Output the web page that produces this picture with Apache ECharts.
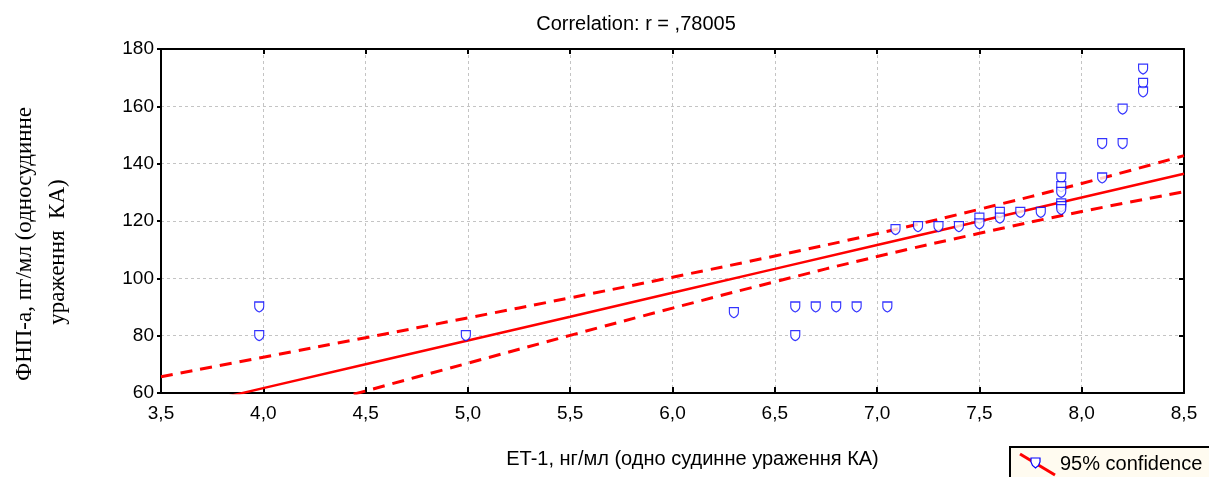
<!DOCTYPE html>
<html lang="uk">
<head>
  <meta charset="UTF-8">
  <script src="https://cdn.jsdelivr.net/npm/echarts@6/dist/echarts.min.js"></script>
  <title>Correlation</title>
  <style>
    html, body { margin: 0; height: 100%; background: #fff; }
    #chart { width: 1209px; height: 477px; }
  </style>
</head>
<body>
  <div id="chart"></div>
  <script>
    // спостереження: ET-1 (x) і ФНП-а (y)
    var et1 = [3.98, 3.98, 4.99, 6.3, 6.6, 6.6, 6.7, 6.8, 6.9, 7.05, 7.09, 7.2, 7.3, 7.4,
      7.5, 7.5, 7.6, 7.6, 7.7, 7.8, 7.9, 7.9, 7.9, 7.9, 7.9, 7.9, 8.1, 8.1, 8.2, 8.2, 8.3, 8.3, 8.3];
    var tnf = [90, 80, 80, 88, 90, 80, 90, 90, 90, 90, 117, 118, 118, 118,
      121, 119, 123, 121, 123, 123, 135, 132, 130, 126, 125, 124, 135, 147, 147, 159, 173, 168, 165];

    // лінія регресії та 95% довірчий інтервал
    var bandX = [3.5, 4.0, 4.5, 5.0, 5.5, 6.0, 6.5, 7.0, 7.5, 8.0, 8.5];
    var fitY = [53.3, 61.7, 70.0, 78.3, 86.6, 95.0, 103.3, 111.6, 119.9, 128.2, 136.5];
    var upperY = [65.7, 72.5, 79.3, 86.2, 93.2, 100.4, 107.8, 115.6, 124.1, 133.1, 142.8];
    var lowerY = [40.9, 50.8, 60.7, 70.4, 80.1, 89.6, 98.8, 107.6, 115.7, 123.3, 130.2];

    function pairs(xs, ys) {
      return xs.map(function (x, i) { return [x, ys[i]]; });
    }

    var font = '"Liberation Sans", Arial, sans-serif';
    var serif = '"Liberation Serif", "Times New Roman", serif';
    var shield = 'path://M0,0 L10,0 L10,5 C10,8 7.5,10 5,11 C2.5,10 0,8 0,5 Z';

    var chart = echarts.init(document.getElementById('chart'));
    var option = {
      animation: false,
      title: {
        text: 'Correlation: r = ,78005',
        left: 631,
        top: 9,
        textAlign: 'center',
        textStyle: { fontFamily: font, fontSize: 20, fontWeight: 'normal', color: '#000' }
      },
      grid: { left: 161, right: 25, top: 49, bottom: 84 },
      xAxis: [{
        type: 'value',
        min: 3.5,
        max: 8.5,
        interval: 0.5,
        name: 'ET-1, нг/мл (одно судинне ураження КА)',
        nameLocation: 'middle',
        nameGap: 56,
        nameTextStyle: { fontFamily: font, fontSize: 20, color: '#000', padding: [0, 0, 0, 40] },
        axisLine: { lineStyle: { color: '#000', width: 2 } },
        axisTick: { inside: true, length: 6, lineStyle: { color: '#000', width: 2 } },
        axisLabel: {
          margin: 11,
          fontFamily: font, fontSize: 19, color: '#000',
          formatter: function (v) { return v.toFixed(1).replace('.', ','); }
        },
        splitLine: { lineStyle: { color: '#c4c4c4', type: [3, 3], width: 1 } }
      }, {
        type: 'value',
        position: 'top',
        min: 3.5,
        max: 8.5,
        interval: 0.5,
        axisLine: { lineStyle: { color: '#000', width: 2 } },
        axisTick: { inside: true, length: 5, lineStyle: { color: '#000', width: 2 } },
        axisLabel: { show: false },
        splitLine: { show: false }
      }],
      yAxis: [{
        type: 'value',
        min: 60,
        max: 180,
        interval: 20,
        axisLine: { show: true, lineStyle: { color: '#000', width: 2 } },
        axisTick: { show: true, length: 4, lineStyle: { color: '#000', width: 2 } },
        axisLabel: { margin: 7, fontFamily: font, fontSize: 19, color: '#000' },
        splitLine: { lineStyle: { color: '#c4c4c4', type: [3, 3], width: 1 } }
      }, {
        type: 'value',
        position: 'right',
        min: 60,
        max: 180,
        interval: 20,
        axisLine: { show: true, lineStyle: { color: '#000', width: 2 } },
        axisTick: { show: true, inside: true, length: 5, lineStyle: { color: '#000', width: 2 } },
        axisLabel: { show: false },
        splitLine: { show: false }
      }],
      series: [{
        type: 'line',
        data: pairs(bandX, upperY),
        smooth: true,
        symbol: 'none',
        lineStyle: { color: '#ff0000', width: 3, type: [12, 8] },
        z: 3
      }, {
        type: 'line',
        data: pairs(bandX, lowerY),
        smooth: true,
        symbol: 'none',
        lineStyle: { color: '#ff0000', width: 3, type: [12, 8] },
        z: 3
      }, {
        type: 'line',
        data: pairs(bandX, fitY),
        symbol: 'none',
        lineStyle: { color: '#ff0000', width: 2.5 },
        z: 3
      }, {
        type: 'scatter',
        data: pairs(et1, tnf),
        symbol: shield,
        symbolSize: [9, 10],
        itemStyle: { color: '#fff', borderColor: '#0000ff', borderWidth: 1.2 },
        z: 4
      }],
      graphic: [{
        type: 'group',
        children: [{
          type: 'text',
          x: 25, y: 244,
          rotation: Math.PI / 2,
          style: {
            text: 'ФНП-а, пг/мл (односудинне',
            font: '23px ' + serif, fill: '#000',
            align: 'center', verticalAlign: 'middle'
          }
        }, {
          type: 'text',
          x: 58, y: 252,
          rotation: Math.PI / 2,
          style: {
            text: 'ураження  КА)',
            font: '23px ' + serif, fill: '#000',
            align: 'center', verticalAlign: 'middle'
          }
        }]
      }, {
        type: 'group',
        children: [{
          type: 'rect',
          shape: { x: 1010, y: 447, width: 230, height: 40 },
          style: { fill: '#fffbf0', stroke: '#000', lineWidth: 2 }
        }, {
          type: 'line',
          shape: { x1: 1020, y1: 454, x2: 1055, y2: 475 },
          style: { stroke: '#ff0000', lineWidth: 3 }
        }, {
          type: 'polygon',
          shape: { points: [[1031, 458], [1040, 458], [1040, 462], [1038.5, 465.5], [1035.5, 468], [1032.5, 465.5], [1031, 462]] },
          style: { fill: '#fff', stroke: '#0000ff', lineWidth: 1.2 }
        }, {
          type: 'text',
          x: 1060, y: 464,
          style: {
            text: '95% confidence',
            font: '20px ' + font, fill: '#000',
            verticalAlign: 'middle'
          }
        }]
      }]
    };
    chart.setOption(option);
  </script>
</body>
</html>
